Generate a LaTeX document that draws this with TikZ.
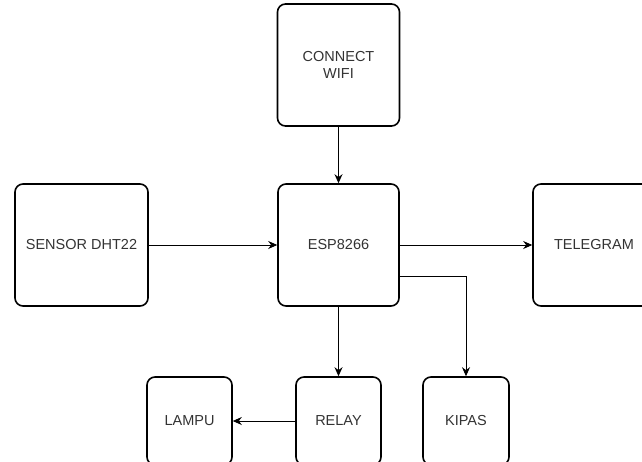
\documentclass[tikz,border=0pt]{standalone}
\usepackage{fontspec}
\setmainfont{Liberation Sans}
\usetikzlibrary{arrows.meta}
\definecolor{txt}{HTML}{333333}

\begin{document}
\begin{tikzpicture}[x=1pt,y=-1pt,
  blok/.style={draw=black,line width=1.6pt,rounded corners=8pt,align=center,
    text=txt,font=\fontsize{14.5}{17}\selectfont,inner sep=0pt},
  arr/.style={draw=black,line width=0.9pt,-{Stealth[length=9pt,width=8pt]}}]
\useasboundingbox (0,0) rectangle (642,461);
\clip (0,0) rectangle (642,461);

\node[blok,minimum width=122,minimum height=122] (wifi) at (338.5, 65) {CONNECT\\WIFI};
\node[blok,minimum width=133,minimum height=122] (sensor) at (81.5, 245) {SENSOR DHT22};
\node[blok,minimum width=121,minimum height=122] (esp) at (338.5, 245) {ESP8266};
\node[blok,minimum width=122,minimum height=122] (telegram) at (594, 245) {TELEGRAM};
\node[blok,minimum width=85,minimum height=88] (lampu) at (189.5, 421) {LAMPU};
\node[blok,minimum width=85,minimum height=88] (relay) at (338.5, 421) {RELAY};
\node[blok,minimum width=86,minimum height=88] (kipas) at (466, 421) {KIPAS};

\draw[arr] (wifi) -- (esp);
\draw[arr] (sensor) -- (esp);
\draw[arr] (esp) -- (telegram);
\draw[arr] (esp) -- (relay);
\draw[arr] (relay) -- (lampu);
\draw[arr] ([yshift=-31pt]esp.east) -| (kipas.north);
\end{tikzpicture}
\end{document}
